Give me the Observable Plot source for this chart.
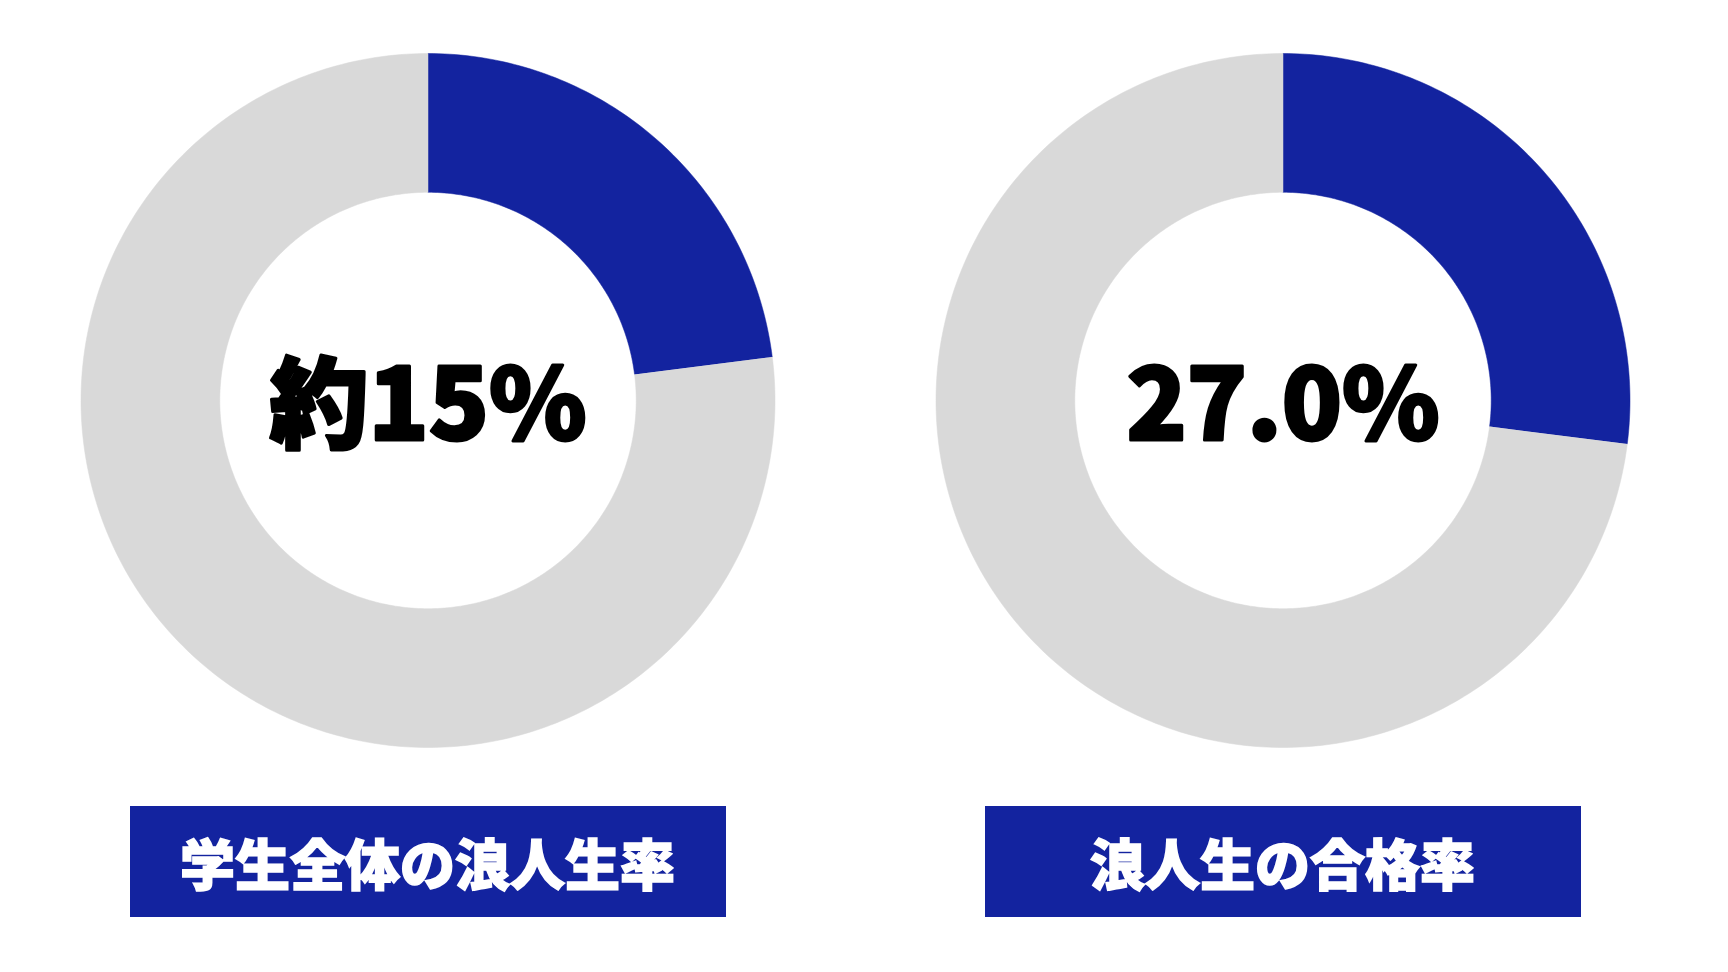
<!DOCTYPE html>
<html lang="ja">
<head>
<meta charset="utf-8">
<script src="https://cdn.jsdelivr.net/npm/d3@7"></script>
<script src="https://cdn.jsdelivr.net/npm/@observablehq/plot@0.6"></script>
<style>
  html, body { margin: 0; padding: 0; background: #ffffff; }
  body { width: 1728px; height: 972px; overflow: hidden; font-family: "Noto Sans CJK JP", "Noto Sans", sans-serif; }
  #chart { position: absolute; left: 0; top: 0; }
  .label-box {
    position: absolute; top: 806px; width: 596px; height: 111px;
    background: #13239F; color: #ffffff;
    font-family: "Noto Sans CJK JP", sans-serif; font-weight: 900; font-size: 55px;
    -webkit-text-stroke: 1.6px #ffffff;
    display: flex; align-items: center; justify-content: center;
    line-height: 1; padding-top: 0px; box-sizing: border-box;
  }
</style>
</head>
<body>
<div id="chart"></div>
<script>
// ---- data ----
const categories = ["学生全体の浪人生率", "浪人生の合格率"];
const shareValues = [23.0, 27.0];          // size of the highlighted wedge (%) as drawn
const centerLabels = ["約15%", "27.0%"];
const segmentNames = ["share", "rest"];
const segmentColors = ["#13239F", "#D9D9D9"];

// ---- layout constants ----
const W = 1728, H = 790;
const R_PX = 347;           // outer radius in px
const INNER = 0.6;          // inner radius relative to outer
const CY = 400;             // donut centre from top of svg
const facetW = 855;
const marginRight = W - facetW * categories.length;

// build ring-segment outlines from the values
const arcPts = [];
categories.forEach((cat, i) => {
  const bounds = [[0, shareValues[i]], [shareValues[i], 100]];
  bounds.forEach(([p0, p1], s) => {
    const n = Math.max(2, Math.ceil((p1 - p0) * 4));
    const id = cat + "-" + segmentNames[s];
    for (let k = 0; k <= n; k++) {
      const a = (p0 + (p1 - p0) * k / n) / 100 * 2 * Math.PI;
      arcPts.push({cat, seg: segmentNames[s], id, x: Math.sin(a), y: Math.cos(a)});
    }
    for (let k = n; k >= 0; k--) {
      const a = (p0 + (p1 - p0) * k / n) / 100 * 2 * Math.PI;
      arcPts.push({cat, seg: segmentNames[s], id, x: INNER * Math.sin(a), y: INNER * Math.cos(a)});
    }
  });
});
const centerData = categories.map((cat, i) => ({cat, label: centerLabels[i]}));

const half = facetW / 2 / R_PX;
const plot = Plot.plot({
  width: W,
  height: H,
  marginTop: 0, marginBottom: 0, marginLeft: 0, marginRight,
  style: {background: "transparent", fontFamily: "'Noto Sans CJK JP', sans-serif"},
  fx: {domain: categories, padding: 0, axis: null},
  x: {domain: [-half, half], axis: null},
  y: {domain: [(CY - H) / R_PX, CY / R_PX], axis: null},
  marks: [
    ...segmentNames.map((seg, s) =>
      Plot.line(arcPts.filter(d => d.seg === seg), {
        fx: "cat", x: "x", y: "y", z: "id",
        fill: segmentColors[s], stroke: segmentColors[s], strokeWidth: 0.5, curve: "linear"
      })
    ),
    Plot.text(centerData, {
      fx: "cat", x: 0, y: 0, text: "label",
      fontSize: 99, fontWeight: 900, fill: "#000000",
      stroke: "#000000", strokeWidth: 3, strokeLinejoin: "round",
      dy: 8,
      fontFamily: "'Noto Sans CJK JP', sans-serif"
    })
  ]
});
document.getElementById("chart").appendChild(plot);

// labels under each donut
categories.forEach((cat, i) => {
  const box = document.createElement("div");
  box.className = "label-box";
  const cx = facetW * (i + 0.5);
  box.style.left = (cx - 298) + "px";
  box.textContent = cat;
  document.body.appendChild(box);
});
</script>
</body>
</html>
